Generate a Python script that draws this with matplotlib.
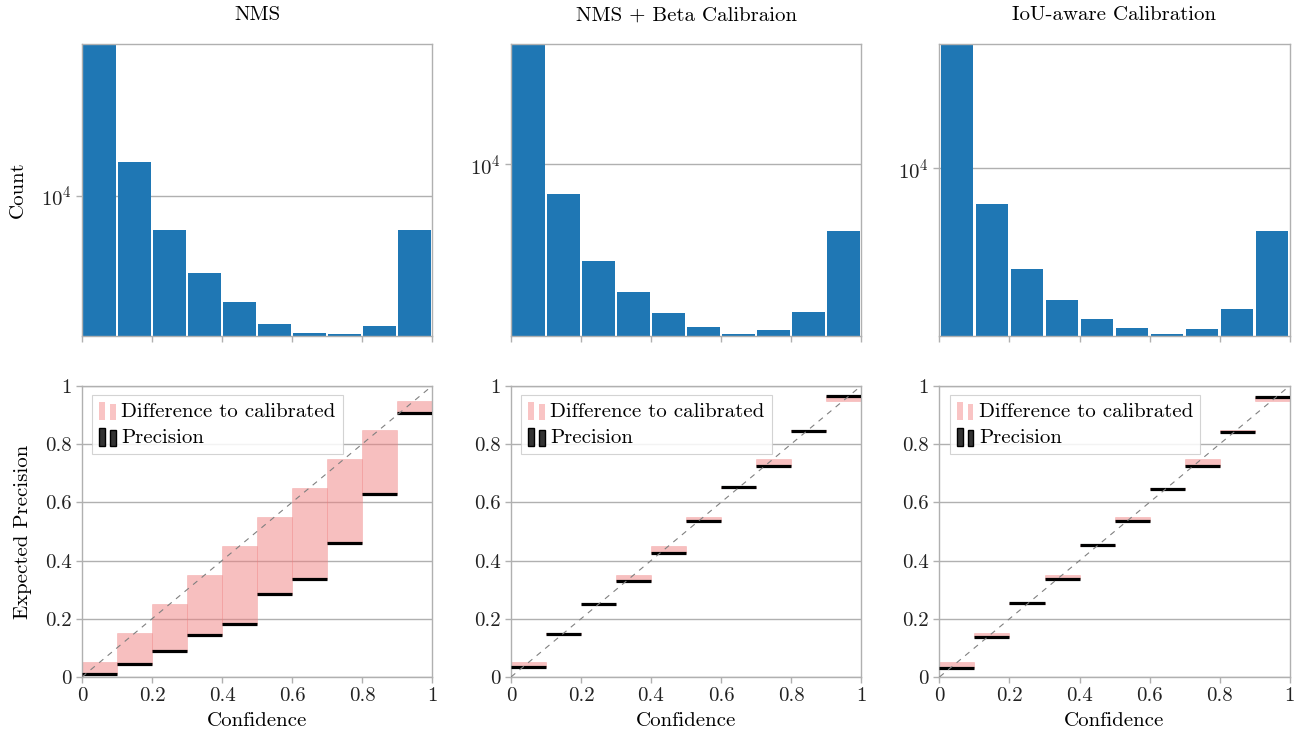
import numpy as np
import matplotlib
matplotlib.use('Agg')
import matplotlib.pyplot as plt
from matplotlib.legend_handler import HandlerBase
from matplotlib.patches import Rectangle

plt.rcParams['font.family'] = 'cmr10'
plt.rcParams['mathtext.fontset'] = 'cm'
plt.rcParams['axes.formatter.use_mathtext'] = True
plt.rcParams['font.size'] = 15

titles = ['NMS', 'NMS + Beta Calibraion', 'IoU-aware Calibration']
bin_edges = np.linspace(0, 1, 11)

# detections per confidence bin
counts_nms = [57540, 14790, 6761, 4121, 2951, 2291, 2065, 2035, 2239, 6761]
counts_beta = [39950, 7102, 3285, 2299, 1805, 1536, 1413, 1484, 1826, 4639]
counts_iou = [41830, 6630, 3137, 2195, 1764, 1590, 1479, 1572, 1980, 4860]
count_floor = [1995, 1385, 1450]

# precision per confidence bin
prec_nms = [0.010, 0.044, 0.089, 0.143, 0.182, 0.285, 0.338, 0.459, 0.629, 0.908]
prec_beta = [0.035, 0.147, 0.251, 0.330, 0.426, 0.535, 0.652, 0.726, 0.846, 0.967]
prec_iou = [0.030, 0.138, 0.255, 0.338, 0.455, 0.537, 0.646, 0.726, 0.843, 0.963]

tick_vals = [0, 0.2, 0.4, 0.6, 0.8, 1]
tick_labels = ['0', '0.2', '0.4', '0.6', '0.8', '1']

all_counts = [counts_nms, counts_beta, counts_iou]
all_prec = [prec_nms, prec_beta, prec_iou]

frame_col = '#b0b0b0'
pink = '#f08080'


class TwoBars(HandlerBase):
    def create_artists(self, legend, orig_handle, xdescent, ydescent,
                       width, height, fontsize, trans):
        fc = orig_handle.get_facecolor()
        ec = orig_handle.get_edgecolor()
        lw = orig_handle.get_linewidth()
        bw = width * 0.33
        out = []
        for x0, h in [(0, 1.2), (width * 0.6, 1.05)]:
            r = Rectangle((x0 - xdescent, -ydescent - 2), bw, height * h,
                          facecolor=fc, edgecolor=ec, lw=lw, transform=trans)
            out.append(r)
        return out


def style_axes(ax):
    for s in ax.spines.values():
        s.set_color(frame_col)
        s.set_linewidth(1.0)
    ax.tick_params(colors=frame_col, labelcolor='#222222', length=4, width=1)
    ax.grid(axis='y', color=frame_col, lw=1)
    ax.set_axisbelow(True)


fig = plt.figure(figsize=(12.95, 7.31), dpi=100)
lefts = [82 / 1295, 511 / 1295, 939.5 / 1295]
w = 350 / 1295

centers = (bin_edges[:-1] + bin_edges[1:]) / 2

for i in range(3):
    # histogram
    ax = fig.add_axes([lefts[i], 0.5404, w, 0.3995])
    ax.bar(centers, all_counts[i], width=0.092, color='#1f77b4', linewidth=0, zorder=2)
    ax.set_yscale('log')
    ax.set_ylim(count_floor[i], max(all_counts[i]))
    ax.set_xlim(0, 1)
    ax.set_xticks(tick_vals)
    ax.set_xticklabels([])
    ax.minorticks_off()
    style_axes(ax)
    ax.set_title(titles[i], pad=17, fontsize=15)
    if i == 0:
        ax.set_ylabel('Count', labelpad=10)

    # reliability
    ax = fig.add_axes([lefts[i], 0.0739, w, 0.3981])
    prec = np.array(all_prec[i])
    ax.bar(bin_edges[:-1], centers - prec, bottom=prec, width=0.1, align='edge',
           color=pink, alpha=0.5, edgecolor=pink, linewidth=0.4, zorder=2)
    ax.hlines(prec, bin_edges[:-1], bin_edges[1:], color='black', lw=2.3, zorder=3)
    ax.plot([0, 1], [0, 1], ls=(0, (5, 5)), color='#808080', lw=0.8, zorder=4)
    ax.set_xlim(0, 1)
    ax.set_ylim(0, 1)
    ax.set_xticks(tick_vals)
    ax.set_xticklabels(tick_labels)
    ax.set_yticks(tick_vals)
    ax.set_yticklabels(tick_labels)
    style_axes(ax)
    ax.set_xlabel('Confidence', labelpad=5)
    if i == 0:
        ax.set_ylabel('Expected Precision', labelpad=9)

    h_diff = Rectangle((0, 0), 1, 1, facecolor='#f9c4c4', edgecolor='none', lw=0)
    h_prec = Rectangle((0, 0), 1, 1, facecolor='#333333', edgecolor='black', lw=1)
    leg = ax.legend([h_diff, h_prec], ['Difference to calibrated', 'Precision'],
                    handler_map={Rectangle: TwoBars()}, loc='upper left',
                    bbox_to_anchor=(0.029, 0.969), fancybox=False, framealpha=0.85,
                    edgecolor='#cccccc', handlelength=0.85, handletextpad=0.2,
                    borderpad=0.35, labelspacing=0.35, fontsize=15, borderaxespad=0)
    leg.get_frame().set_linewidth(0.8)

plt.savefig('out.png', dpi=100)
